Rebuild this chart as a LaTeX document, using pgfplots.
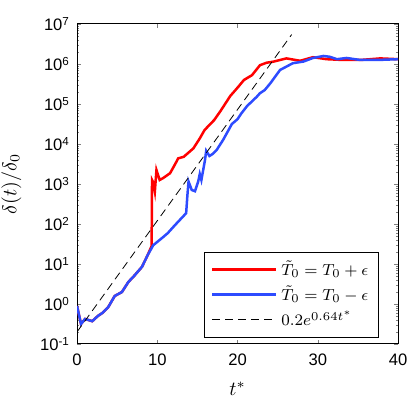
\documentclass[border=0pt]{standalone}
\usepackage{fontspec}
\setmainfont{Liberation Sans}
\usepackage{pgfplots}
\pgfplotsset{compat=1.18}
\usetikzlibrary{calc}
\definecolor{myred}{RGB}{255,0,0}
\definecolor{myblue}{RGB}{45,75,255}
\begin{document}
\begin{tikzpicture}
\begin{semilogyaxis}[
    scale only axis,
    width=160.5pt, height=160pt,
    xmin=0, xmax=40,
    ymin=1e-1, ymax=1e7,
    xtick={0,10,20,30,40},
    ytick={1e-1,1e0,1e1,1e2,1e3,1e4,1e5,1e6,1e7},
    yticklabels={10\textsuperscript{-1},10\textsuperscript{0},10\textsuperscript{1},10\textsuperscript{2},10\textsuperscript{3},10\textsuperscript{4},10\textsuperscript{5},10\textsuperscript{6},10\textsuperscript{7}},
    xticklabel style={font=\fontsize{8.3}{9}\selectfont, yshift=-1.5pt},
    yticklabel style={font=\fontsize{8.3}{9}\selectfont},
    /pgf/number format/assume math mode=true,
    tick align=inside,
    major tick length=2pt,
    minor tick length=1pt,
    axis line style={line width=0.5pt},
    xlabel={$t^{*}$},
    ylabel={$\delta(t)/\delta_0$},
    label style={font=\fontsize{10}{12}\selectfont},
    xlabel style={yshift=-1pt},
    ylabel style={yshift=2.5pt},
    legend style={at={(rel axis cs:0.94,0.02)}, anchor=south east, draw=black, line width=0.5pt, font=\fontsize{8}{9}\selectfont, row sep=1.2pt, inner sep=3pt, nodes={inner ysep=1.2pt}},
    legend cell align={left},
    legend image code/.code={\draw[#1] (0pt,0pt) -- (32pt,0pt);},
]
\coordinate (ll) at (rel axis cs:0,0);
\coordinate (ur) at (rel axis cs:1,1);

\addplot[color=myred, line width=1.25pt] coordinates {
    (0,0.891) (0.5,0.316) (1.0,0.422) (1.9,0.372) (2.6,0.501) (3.2,0.603) (3.9,0.841)
    (4.7,1.585) (5.6,1.995) (6.4,3.548) (7.2,5.248) (8.1,8.511) (8.8,16.6) (9.3,28.2)
    (9.35,1259) (9.5,1100) (9.7,646) (9.9,2239) (10.3,1259) (10.75,1413) (11.6,1862)
    (12.4,3631) (12.6,4365) (13.3,4786) (14.5,7762) (15.3,13800) (15.9,22390)
    (17.1,39810) (17.9,67610) (19.1,158500) (20.1,269200) (20.8,398100) (21.8,524800)
    (22.8,933300) (23.6,1.072e6) (24.5,1.148e6) (26.1,1.380e6) (27.8,1.202e6)
    (29.4,1.479e6) (31.1,1.318e6) (33.2,1.259e6) (35.3,1.259e6) (37.8,1.380e6) (40,1.318e6)
};
\addlegendentry{$\tilde{T}_0 = T_0 + \epsilon$}

\addplot[color=myblue, line width=1.25pt] coordinates {
    (0,0.891) (0.5,0.316) (1.0,0.422) (1.9,0.372) (2.6,0.501) (3.2,0.603) (3.9,0.841)
    (4.7,1.585) (5.6,1.995) (6.4,3.548) (7.2,5.248) (8.1,8.511) (8.8,16.6) (9.5,29.5)
    (10.6,44.7) (11.3,58.9) (12.2,93.3) (13.6,186) (13.75,501) (13.9,1148) (14.3,708)
    (14.7,661) (15.1,1148) (15.3,1778) (15.5,1259) (15.95,3981) (16.1,6761) (16.5,5012)
    (16.9,5623) (17.4,7079) (18.2,12590) (19.3,31620) (20.0,41690) (20.5,58880)
    (21.2,89130) (22.4,151400) (22.8,186200) (23.4,223900) (24.1,331100) (25.3,707900)
    (26.9,1.047e6) (28.2,1.148e6) (29.4,1.413e6) (30.7,1.585e6) (31.5,1.514e6)
    (32.4,1.318e6) (33.6,1.413e6) (35.3,1.259e6) (37.4,1.259e6) (40,1.318e6)
};
\addlegendentry{$\tilde{T}_0 = T_0 - \epsilon$}

% fit line 0.2 e^{0.64 t}
\addplot[black, line width=0.4pt, dash pattern=on 4pt off 2.5pt] coordinates {
    (0,0.2) (26.75,5.447e6)
};
\addlegendentry{$0.2e^{0.64t^{*}}$}
\end{semilogyaxis}
\pgfresetboundingbox
\path ($(ll)+(-38.5pt,-27pt)$) rectangle ($(ur)+(8.5pt,12pt)$);
\end{tikzpicture}
\end{document}
